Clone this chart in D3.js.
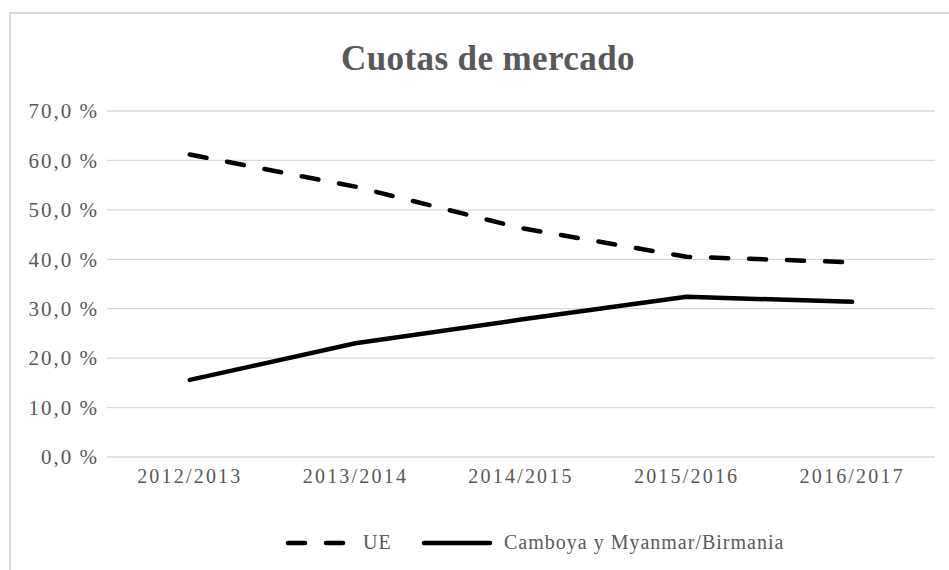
<!DOCTYPE html>
<html>
<head>
<meta charset="utf-8">
<script src="https://cdnjs.cloudflare.com/ajax/libs/d3/7.8.5/d3.min.js"></script>
<style>
  body { margin: 0; background: #fff; }
  svg { display: block; font-family: "Liberation Serif", serif; }
</style>
</head>
<body>
<div class="content"></div>
<script>

// chart data
var temporadas = ["2012/2013", "2013/2014", "2014/2015", "2015/2016", "2016/2017"];
var cuotaUE = [61.2, 54.7, 46.3, 40.5, 39.4];
var cuotaCamboya = [15.6, 23.0, 27.8, 32.4, 31.4];
var yTicks = [0, 10, 20, 30, 40, 50, 60, 70];
var seriesNames = ["UE", "Camboya y Myanmar/Birmania"];

var width = 949, height = 570;
var margin = {top: 111, right: 14, bottom: 113, left: 107};
var textColor = "#595959";

var svg = d3.select(".content").append("svg")
   .attr("width", width)
   .attr("height", height);

// outer frame of the chart area
svg.append("rect")
   .attr("x", 10).attr("y", 13)
   .attr("width", 960).attr("height", 600)
   .attr("fill", "white")
   .attr("stroke", "#d9d9d9")
   .attr("stroke-width", 2);

var x = d3.scaleBand()
   .domain(temporadas)
   .range([margin.left, width - margin.right]);

var y = d3.scaleLinear()
   .domain([0, 70])
   .range([height - margin.bottom, margin.top]);

// grid lines
svg.append("g")
   .selectAll("line")
   .data(yTicks)
   .enter().append("line")
   .attr("x1", margin.left)
   .attr("x2", width - margin.right)
   .attr("y1", function(d){ return y(d); })
   .attr("y2", function(d){ return y(d); })
   .attr("stroke", "#d9d9d9")
   .attr("stroke-width", 1.3);

// y axis labels (thin space before the percent sign)
var yAxis = d3.axisLeft(y)
   .tickValues(yTicks)
   .tickSize(0)
   .tickPadding(8)
   .tickFormat(function(d){ return d3.format(".1f")(d).replace(".", ",") + "\u2009%"; });

svg.append("g")
   .attr("transform", "translate(" + margin.left + ",0)")
   .call(yAxis)
   .call(function(g){ g.select(".domain").remove(); })
   .selectAll("text")
   .attr("fill", textColor)
   .attr("font-size", "21px")
   .attr("letter-spacing", "2px")
   .attr("font-family", "Liberation Serif, serif");

// x axis labels
var xAxis = d3.axisBottom(x).tickSize(0).tickPadding(12);

svg.append("g")
   .attr("transform", "translate(0," + (height - margin.bottom) + ")")
   .call(xAxis)
   .call(function(g){ g.select(".domain").remove(); })
   .selectAll("text")
   .attr("fill", textColor)
   .attr("font-size", "20px")
   .attr("letter-spacing", "2.2px")
   .attr("font-family", "Liberation Serif, serif");

// lines
var line = d3.line()
   .x(function(d, i){ return x(temporadas[i]) + x.bandwidth() / 2; })
   .y(function(d){ return y(d); });

svg.append("path")
   .datum(cuotaUE)
   .attr("d", line)
   .attr("fill", "none")
   .attr("stroke", "black")
   .attr("stroke-width", 4.5)
   .attr("stroke-linecap", "round")
   .attr("stroke-linejoin", "round")
   .attr("stroke-dasharray", "17,21");

svg.append("path")
   .datum(cuotaCamboya)
   .attr("d", line)
   .attr("fill", "none")
   .attr("stroke", "black")
   .attr("stroke-width", 4.5)
   .attr("stroke-linecap", "round")
   .attr("stroke-linejoin", "round");

// title
svg.append("text")
   .attr("x", 488)
   .attr("y", 70)
   .attr("text-anchor", "middle")
   .attr("fill", textColor)
   .attr("font-size", "35px")
   .attr("font-weight", "bold")
   .attr("letter-spacing", "0.4px")
   .text("Cuotas de mercado");

// legend
var legendY = 543;
var legend = svg.append("g");

legend.append("line")
   .attr("x1", 288).attr("x2", 344)
   .attr("y1", legendY).attr("y2", legendY)
   .attr("stroke", "black")
   .attr("stroke-width", 4.5)
   .attr("stroke-linecap", "round")
   .attr("stroke-dasharray", "17,21");

legend.append("text")
   .attr("x", 363).attr("y", legendY + 6)
   .attr("fill", textColor)
   .attr("font-size", "20px")
   .attr("letter-spacing", "1px")
   .text(seriesNames[0]);

legend.append("line")
   .attr("x1", 424).attr("x2", 490)
   .attr("y1", legendY).attr("y2", legendY)
   .attr("stroke", "black")
   .attr("stroke-width", 4.5)
   .attr("stroke-linecap", "round");

legend.append("text")
   .attr("x", 504).attr("y", legendY + 6)
   .attr("fill", textColor)
   .attr("font-size", "20px")
   .attr("letter-spacing", "1px")
   .text(seriesNames[1]);

</script>
</body>
</html>
